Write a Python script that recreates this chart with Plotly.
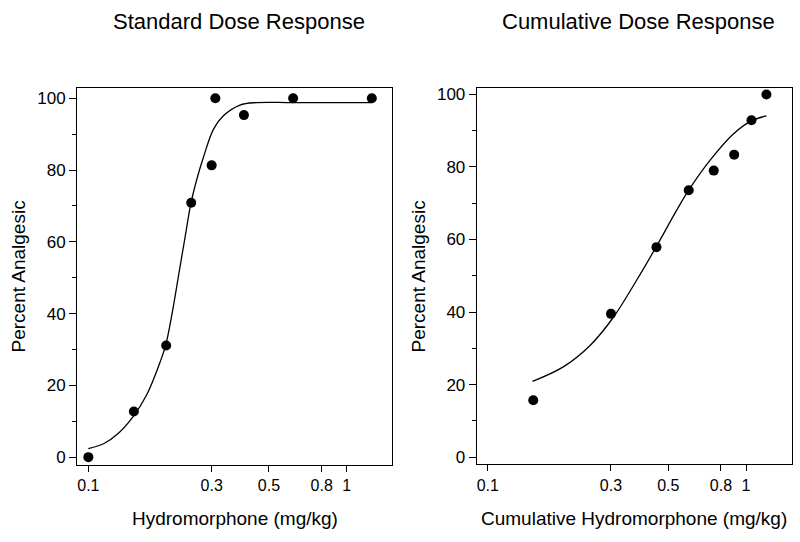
import plotly.graph_objects as go

# Standard dose response: observed points
std_dose = [0.1, 0.15, 0.2, 0.25, 0.3, 0.31, 0.4, 0.62, 1.25]
std_pct = [0.0, 12.7, 31.1, 70.9, 81.3, 100.0, 95.3, 100.0, 100.0]
# fitted curve
std_fit_dose = [0.1, 0.115, 0.13, 0.149, 0.168, 0.1895, 0.199, 0.212, 0.225, 0.237, 0.249, 0.263, 0.2786, 0.305, 0.333, 0.386, 0.449, 0.6, 0.9, 1.25]
std_fit_pct = [2.4, 3.8, 6.5, 11.3, 17.3, 26.5, 31.1, 41.0, 52.0, 61.5, 70.5, 77.5, 83.5, 91.4, 95.1, 98.1, 98.8, 98.8, 98.8, 98.8]

# Cumulative dose response
cum_dose = [0.15, 0.3, 0.45, 0.6, 0.75, 0.9, 1.05, 1.2]
cum_pct = [15.7, 39.5, 57.9, 73.6, 79.0, 83.4, 92.9, 100.0]
cum_fit_dose = [0.149, 0.196, 0.249, 0.306, 0.375, 0.45, 0.539, 0.6, 0.725, 0.893, 1.05, 1.2]
cum_fit_pct = [20.9, 24.9, 30.8, 38.5, 48.5, 58.1, 68.1, 73.6, 81.8, 89.1, 92.7, 94.1]

x_ticks = [0.1, 0.3, 0.5, 0.8, 1]
x_ticktext = ["0.1", "0.3", "0.5", "0.8", "1"]
y_ticks = [0, 20, 40, 60, 80, 100]
y_minor = [10, 30, 50, 70, 90]

FONT = "Liberation Sans, Arial, sans-serif"

fig = go.Figure()

line_style = dict(color="black", width=1.3, shape="spline", smoothing=1.0)
fig.add_trace(go.Scatter(x=std_fit_dose, y=std_fit_pct, mode="lines", line=line_style,
                         xaxis="x", yaxis="y", showlegend=False, hoverinfo="skip"))
fig.add_trace(go.Scatter(x=std_dose, y=std_pct, mode="markers", marker=dict(color="black", size=10),
                         xaxis="x", yaxis="y", showlegend=False))
fig.add_trace(go.Scatter(x=cum_fit_dose, y=cum_fit_pct, mode="lines", line=line_style,
                         xaxis="x2", yaxis="y2", showlegend=False, hoverinfo="skip"))
fig.add_trace(go.Scatter(x=cum_dose, y=cum_pct, mode="markers", marker=dict(color="black", size=10),
                         xaxis="x2", yaxis="y2", showlegend=False))

def xax(domain, anchor, rng):
    return dict(domain=domain, anchor=anchor, type="log", range=rng,
                tickvals=x_ticks, ticktext=x_ticktext, ticks="outside", ticklen=6, tickwidth=1,
                tickcolor="black", showline=True, linecolor="black", linewidth=1, mirror=True,
                showgrid=False, zeroline=False, tickfont=dict(size=16, color="black", family=FONT))

def yax(domain, anchor, rng):
    return dict(domain=domain, anchor=anchor, range=rng,
                tickvals=y_ticks, ticks="outside", ticklen=7, tickwidth=1, tickcolor="black",
                minor=dict(tickvals=y_minor, ticks="outside", ticklen=4, tickwidth=1, tickcolor="black"),
                showline=True, linecolor="black", linewidth=1, mirror=True,
                showgrid=False, zeroline=False, tickfont=dict(size=17, color="black", family=FONT))

fig.update_layout(
    width=800, height=542,
    margin=dict(l=0, r=0, t=0, b=0),
    paper_bgcolor="white", plot_bgcolor="white",
    font=dict(family=FONT, color="black"),
    xaxis=xax([77/800, 392/800], "y", [-1.044, 0.175]),
    yaxis=yax([1-467/542, 1-87/542], "x", [-2.1, 102.8]),
    xaxis2=xax([476.7/800, 791.7/800], "y2", [-1.043, 0.177]),
    yaxis2=yax([1-466.7/542, 1-86.7/542], "x2", [-2.0, 101.8]),
)

ann = [
    dict(text="Standard Dose Response", x=239/800, y=1-20/542, size=22, angle=0),
    dict(text="Cumulative Dose Response", x=638.5/800, y=1-20/542, size=22, angle=0),
    dict(text="Hydromorphone (mg/kg)", x=234.5/800, y=1-521/542, size=19, angle=0),
    dict(text="Cumulative Hydromorphone (mg/kg)", x=634/800, y=1-521/542, size=19, angle=0),
    dict(text="Percent Analgesic", x=18/800, y=1-277/542, size=19, angle=-90),
    dict(text="Percent Analgesic", x=418/800, y=1-277/542, size=19, angle=-90),
]
for a in ann:
    fig.add_annotation(text=a["text"], x=a["x"], y=a["y"], xref="paper", yref="paper",
                       xanchor="center", yanchor="middle", showarrow=False, textangle=a["angle"],
                       font=dict(size=a["size"], color="black", family=FONT))

fig.write_html("out.html", config={"displayModeBar": False},
               post_script="document.body.style.margin='0';document.body.style.padding='0';")
